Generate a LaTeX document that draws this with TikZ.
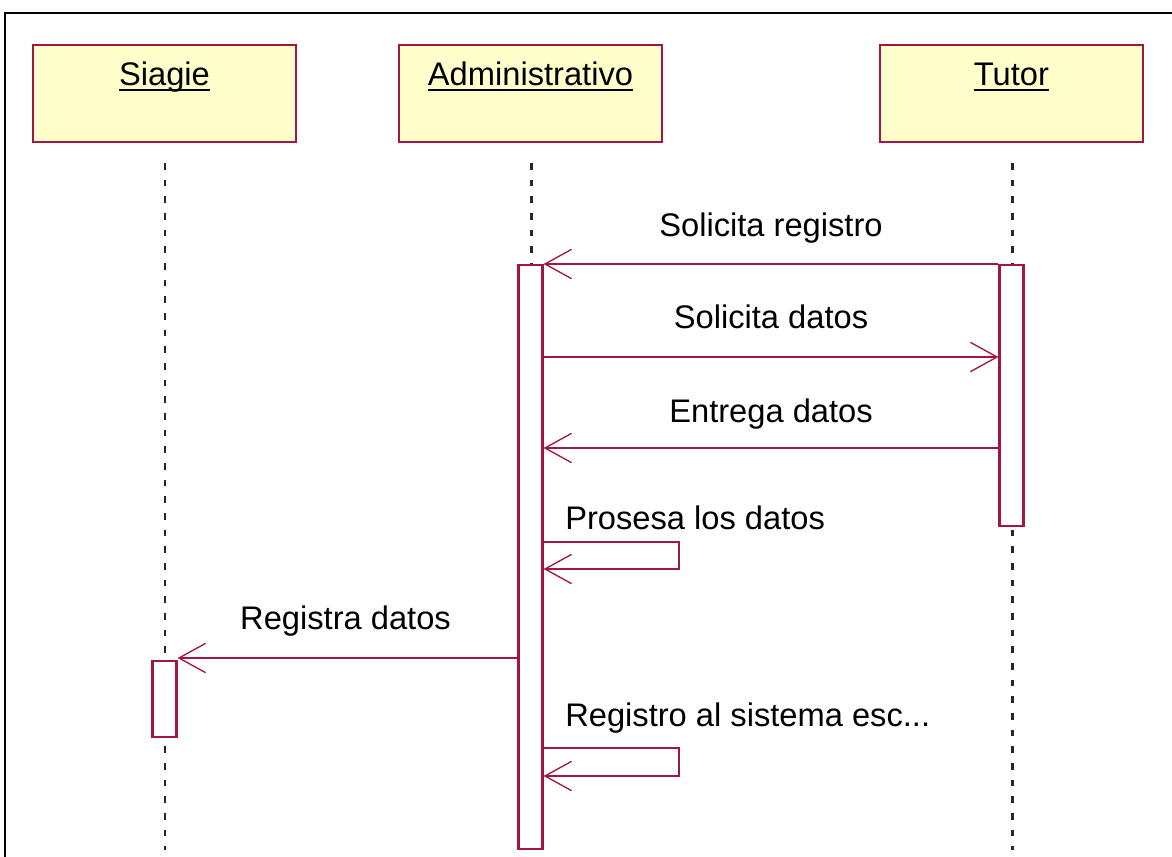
\documentclass[tikz,border=0pt]{standalone}
\usepackage{fontspec}
\setmainfont{Liberation Sans}
\usetikzlibrary{arrows.meta}
\definecolor{rose}{RGB}{163,21,66}
\definecolor{objfill}{RGB}{255,255,204}
\begin{document}
\begin{tikzpicture}[x=0.75pt,y=-0.75pt,
  objbox/.style={draw=rose, fill=objfill, line width=1.6pt, minimum width=263*0.75pt, minimum height=97*0.75pt, inner sep=0pt},
  actbox/.style={draw=rose, fill=white, line width=1.6pt, minimum width=24*0.75pt, inner sep=0pt, anchor=north},
  life/.style={draw=black!85, line width=2.1pt, dash pattern=on 5pt off 7.5pt},
  msg/.style={draw=rose, line width=1.5pt, -{Straight Barb[length=20pt,width=22pt,line width=1pt]}},
  lbl/.style={font=\fontsize{24.5}{29}\selectfont, inner sep=0pt, anchor=base},
  lblw/.style={lbl, anchor=base west},
  uline/.style={draw=black, line width=1.5pt},
]
\useasboundingbox (0,0) rectangle (1172,857);
% outer frame
\draw[black, line width=1.6pt] (5,860) -- (5,13) -- (1175,13);

% object boxes
\node[objbox] (sB) at (164.5,93.5) {};
\node[objbox] (aB) at (530.5,93.5) {};
\node[objbox] (tB) at (1011.5,93.5) {};
\node[lbl] (sT) at (164.5,85) {Siagie};
\node[lbl] (aT) at (530.5,85) {Administrativo};
\node[lbl] (tT) at (1011.5,85) {Tutor};
\draw[uline] ([yshift=-3.5pt]sT.base west) -- ([yshift=-3.5pt]sT.base east);
\draw[uline] ([yshift=-3.5pt]aT.base west) -- ([yshift=-3.5pt]aT.base east);
\draw[uline] ([yshift=-3.5pt]tT.base west) -- ([yshift=-3.5pt]tT.base east);

% lifelines
\coordinate (sTop) at (165,163); \coordinate (sBot) at (165,850);
\coordinate (aTop) at (531.5,163); \coordinate (aBot) at (531.5,850);
\coordinate (tTop) at (1012.5,163); \coordinate (tBot) at (1012.5,850);
\draw[life] (sTop) -- (sBot);
\draw[life] (aTop) -- (aBot);
\draw[life] (tTop) -- (tBot);

% activations
\node[actbox, minimum height=584*0.75pt] (aA) at (530.5,264) {};
\node[actbox, minimum height=261*0.75pt] (tA) at (1011.5,264) {};
\node[actbox, minimum height=76*0.75pt] (sA) at (164.5,660) {};

% message levels
\coordinate (y2) at (0,357);
\coordinate (y3) at (0,448);
\coordinate (l1) at (679,542);
\coordinate (l1b) at (0,569);
\coordinate (y5) at (0,658);
\coordinate (l2) at (679,748);
\coordinate (l2b) at (0,776);

% messages
\draw[msg] (tA.north west) -- (aA.north east);
\draw[msg] (aA.east |- y2) -- (tA.west |- y2);
\draw[msg] (tA.west |- y3) -- (aA.east |- y3);
\draw[msg] (aA.east |- l1) -- (l1) |- (aA.east |- l1b);
\draw[msg] (aA.west |- y5) -- (sA.east |- y5);
\draw[msg] (aA.east |- l2) -- (l2) |- (aA.east |- l2b);

% labels
\node[lbl] (m1) at (771,236) {Solicita registro};
\node[lbl] (m2) at (771,328) {Solicita datos};
\node[lbl] (m3) at (771,422) {Entrega datos};
\node[lblw] (m4) at (565,529) {Prosesa los datos};
\node[lbl] (m5) at (345.5,629) {Registra datos};
\node[lblw] (m6) at (565,726) {Registro al sistema esc...};
\end{tikzpicture}
\end{document}
